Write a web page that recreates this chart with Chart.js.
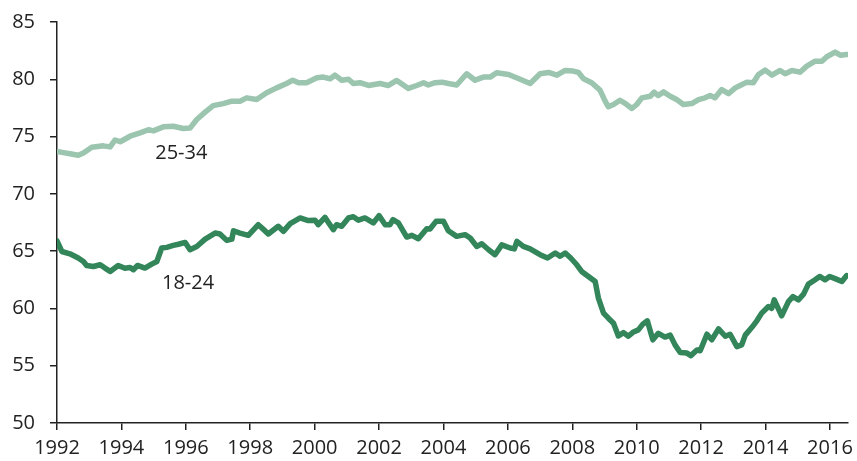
<!DOCTYPE html>
<html>
<head>
<meta charset="utf-8">
<script src="https://cdn.jsdelivr.net/npm/chart.js@4/dist/chart.umd.min.js"></script>
<style>
  html, body { margin: 0; padding: 0; background: #fff; }
  #wrap { width: 857px; height: 461px; }
</style>
</head>
<body>
<div id="wrap"><canvas id="chart" width="857" height="461"></canvas></div>
<script>
// 25-34 age group
const olderX = [1992.00, 1992.20, 1992.40, 1992.66, 1992.82, 1993.08, 1993.44, 1993.65, 1993.80, 1993.96,
  1994.27, 1994.58, 1994.84, 1994.99, 1995.30, 1995.61, 1995.92, 1996.13, 1996.34, 1996.60,
  1996.85, 1997.16, 1997.43, 1997.68, 1997.89, 1998.20, 1998.51, 1998.82, 1999.13, 1999.32,
  1999.50, 1999.75, 2000.07, 2000.27, 2000.48, 2000.63, 2000.84, 2001.05, 2001.20, 2001.41,
  2001.67, 2002.03, 2002.29, 2002.55, 2002.91, 2003.17, 2003.38, 2003.53, 2003.74, 2003.95,
  2004.15, 2004.41, 2004.72, 2004.98, 2005.24, 2005.45, 2005.65, 2006.02, 2006.38, 2006.69,
  2007.00, 2007.26, 2007.52, 2007.78, 2008.03, 2008.19, 2008.35, 2008.60, 2008.86, 2009.02,
  2009.12, 2009.28, 2009.48, 2009.64, 2009.85, 2010.00, 2010.16, 2010.42, 2010.54, 2010.67,
  2010.83, 2011.04, 2011.24, 2011.45, 2011.71, 2011.92, 2012.12, 2012.28, 2012.43, 2012.64,
  2012.85, 2013.06, 2013.21, 2013.42, 2013.62, 2013.78, 2013.99, 2014.20, 2014.45, 2014.61,
  2014.82, 2015.07, 2015.28, 2015.54, 2015.75, 2015.90, 2016.16, 2016.32, 2016.52];
const olderY = [73.7, 73.6, 73.5, 73.37, 73.57, 74.07, 74.19, 74.1, 74.7, 74.55,
  75.03, 75.32, 75.6, 75.5, 75.85, 75.9, 75.7, 75.74, 76.49, 77.13,
  77.7, 77.88, 78.09, 78.09, 78.38, 78.23, 78.82, 79.25, 79.63, 79.92,
  79.7, 79.7, 80.13, 80.19, 80.05, 80.36, 79.92, 80.0, 79.63, 79.7,
  79.46, 79.63, 79.46, 79.9, 79.2, 79.46, 79.7, 79.5, 79.7, 79.75,
  79.63, 79.5, 80.48, 79.92, 80.19, 80.19, 80.57, 80.42, 80.0, 79.63,
  80.48, 80.6, 80.36, 80.77, 80.72, 80.6, 80.04, 79.7, 79.05, 78.09,
  77.6, 77.8, 78.17, 77.9, 77.45, 77.8, 78.38, 78.52, 78.87, 78.58,
  78.9, 78.52, 78.23, 77.8, 77.88, 78.23, 78.38, 78.58, 78.38, 79.1,
  78.75, 79.25, 79.46, 79.75, 79.7, 80.42, 80.8, 80.36, 80.77, 80.48,
  80.77, 80.62, 81.15, 81.58, 81.58, 81.97, 82.37, 82.1, 82.17];

// 18-24 age group
const youngX = [1992.00, 1992.15, 1992.40, 1992.66, 1992.82, 1992.92, 1993.13, 1993.34, 1993.49, 1993.65,
  1993.90, 1994.11, 1994.27, 1994.37, 1994.50, 1994.73, 1994.94, 1995.10, 1995.25, 1995.41,
  1995.61, 1995.77, 1995.98, 1996.13, 1996.34, 1996.60, 1996.91, 1997.06, 1997.27, 1997.43,
  1997.48, 1997.68, 1997.94, 1998.25, 1998.41, 1998.56, 1998.87, 1999.03, 1999.24, 1999.55,
  1999.80, 2000.01, 2000.11, 2000.32, 2000.58, 2000.68, 2000.84, 2001.05, 2001.20, 2001.36,
  2001.56, 2001.82, 2002.00, 2002.19, 2002.34, 2002.43, 2002.60, 2002.86, 2003.02, 2003.22,
  2003.48, 2003.58, 2003.77, 2004.00, 2004.15, 2004.41, 2004.67, 2004.83, 2005.03, 2005.19,
  2005.40, 2005.60, 2005.81, 2006.07, 2006.20, 2006.28, 2006.48, 2006.69, 2007.00, 2007.23,
  2007.47, 2007.62, 2007.78, 2007.95, 2008.14, 2008.29, 2008.50, 2008.71, 2008.81, 2008.97,
  2009.12, 2009.28, 2009.43, 2009.59, 2009.74, 2009.90, 2010.05, 2010.19, 2010.33, 2010.50,
  2010.67, 2010.88, 2011.04, 2011.19, 2011.35, 2011.56, 2011.68, 2011.87, 2011.97, 2012.18,
  2012.33, 2012.54, 2012.75, 2012.90, 2013.11, 2013.26, 2013.37, 2013.57, 2013.73, 2013.88,
  2014.09, 2014.19, 2014.27, 2014.50, 2014.71, 2014.85, 2015.02, 2015.18, 2015.33, 2015.54,
  2015.68, 2015.85, 2015.99, 2016.16, 2016.37, 2016.52];
const youngY = [65.9, 64.97, 64.77, 64.4, 64.1, 63.75, 63.66, 63.81, 63.52, 63.23,
  63.75, 63.5, 63.58, 63.38, 63.75, 63.52, 63.87, 64.1, 65.27, 65.33,
  65.5, 65.6, 65.76, 65.12, 65.4, 66.05, 66.58, 66.5, 65.94, 66.05,
  66.78, 66.58, 66.38, 67.31, 66.9, 66.5, 67.17, 66.73, 67.4, 67.9,
  67.67, 67.7, 67.31, 67.95, 66.87, 67.31, 67.17, 67.9, 68.0, 67.7,
  67.9, 67.46, 68.1, 67.31, 67.31, 67.75, 67.46, 66.23, 66.38, 66.08,
  66.96, 66.93, 67.6, 67.6, 66.78, 66.29, 66.44, 66.15, 65.41, 65.64,
  65.12, 64.69, 65.55, 65.27, 65.2, 65.85, 65.41, 65.2, 64.69, 64.4,
  64.84, 64.55, 64.84, 64.4, 63.81, 63.23, 62.79, 62.35, 60.9, 59.59,
  59.15, 58.71, 57.6, 57.89, 57.57, 57.95, 58.13, 58.63, 58.92, 57.26,
  57.83, 57.5, 57.67, 56.82, 56.15, 56.1, 55.88, 56.38, 56.3, 57.75,
  57.26, 58.22, 57.57, 57.75, 56.67, 56.82, 57.67, 58.33, 58.92, 59.59,
  60.17, 60.0, 60.75, 59.35, 60.6, 61.04, 60.75, 61.25, 62.12, 62.5,
  62.79, 62.5, 62.79, 62.6, 62.35, 62.87];

const seriesNames = ["25-34", "18-24"];
const yTicks = [50, 55, 60, 65, 70, 75, 80, 85];
const xTicks = [1992, 1994, 1996, 1998, 2000, 2002, 2004, 2006, 2008, 2010, 2012, 2014, 2016];

const FONT = { family: "'Open Sans', sans-serif", size: 20 };
const INK = "#222";

function toPoints(xs, ys) {
  return xs.map((x, i) => ({ x: x, y: ys[i] }));
}

// where the in-chart series labels sit (data coords)
const labelSpots = [
  { text: seriesNames[0], x: 1995.86, y: 73.5 },
  { text: seriesNames[1], x: 1996.07, y: 62.15 }
];

const seriesLabels = {
  id: "seriesLabels",
  afterDatasetsDraw(chart) {
    const ctx = chart.ctx;
    const xs = chart.scales.x, ys = chart.scales.y;
    ctx.save();
    ctx.font = `${FONT.size}px ${FONT.family}`;
    ctx.fillStyle = INK;
    ctx.textAlign = "center";
    ctx.textBaseline = "middle";
    labelSpots.forEach(l => {
      ctx.fillText(l.text, xs.getPixelForValue(l.x), ys.getPixelForValue(l.y));
    });
    ctx.restore();
  }
};

new Chart(document.getElementById("chart"), {
  type: "line",
  data: {
    datasets: [
      {
        label: seriesNames[0],
        data: toPoints(olderX, olderY),
        borderColor: "#9bc5ae",
        borderWidth: 5.5
      },
      {
        label: seriesNames[1],
        data: toPoints(youngX, youngY),
        borderColor: "#33855a",
        borderWidth: 5.5
      }
    ]
  },
  options: {
    responsive: false,
    animation: false,
    events: [],
    layout: { padding: { top: 22, right: 9, left: 0, bottom: 0 } },
    elements: {
      point: { radius: 0 },
      line: { tension: 0, borderCapStyle: "round", borderJoinStyle: "round" }
    },
    plugins: { legend: { display: false }, tooltip: { enabled: false } },
    scales: {
      x: {
        type: "linear",
        min: 1992,
        max: 2016.56,
        afterBuildTicks: s => { s.ticks = xTicks.map(v => ({ value: v })); },
        afterFit: s => { s.height = 38; s.paddingLeft = 0; s.paddingRight = 0; },
        grid: { drawOnChartArea: false, tickLength: 7, color: INK, lineWidth: 1.5 },
        border: { color: INK, width: 1.5 },
        ticks: {
          font: FONT, color: INK, padding: 6, maxRotation: 0, autoSkip: false,
          callback: v => String(v)
        }
      },
      y: {
        min: 50,
        max: 85,
        afterBuildTicks: s => { s.ticks = yTicks.map(v => ({ value: v })); },
        afterFit: s => { s.width = 57; s.paddingTop = 0; s.paddingBottom = 0; },
        grid: { drawOnChartArea: false, tickLength: 7, color: INK, lineWidth: 1.5 },
        border: { color: INK, width: 1.5 },
        ticks: { font: FONT, color: INK, padding: 15, callback: v => String(v) }
      }
    }
  },
  plugins: [seriesLabels]
});
</script>
</body>
</html>
